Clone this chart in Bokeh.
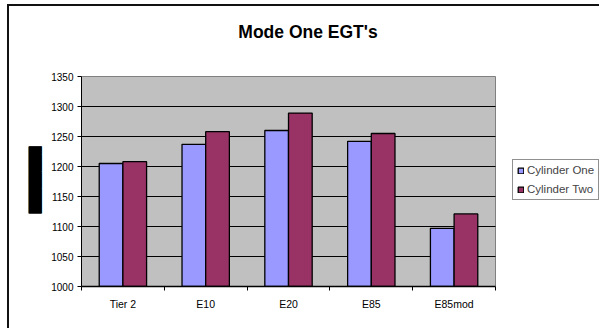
from bokeh.plotting import figure
from bokeh.models import (ColumnDataSource, FixedTicker, Legend, LegendItem,
                          Title, Label, Range1d, Grid)
from bokeh.embed import file_html
from bokeh.resources import INLINE

categories = ["Tier 2", "E10", "E20", "E85", "E85mod"]
cyl_one = [1205, 1237, 1260, 1242, 1097]
cyl_two = [1208, 1258, 1289, 1255, 1121]
y_ticks = [1000, 1050, 1100, 1150, 1200, 1250, 1300, 1350]
title_text = "Mode One EGT's"
series_names = ["Cylinder One", "Cylinder Two"]

FONT = "Liberation Sans"
W, H = 592, 324
LEFT, BOTTOM = 72, 44
PLOT_W_PX = 414            # pixel width of the grey plot area
PX_PER_UNIT = 0.6          # vertical pixels per unit

n = len(categories)
x_end = n * (W - LEFT) / PLOT_W_PX
y_end = y_ticks[0] + (H - BOTTOM) / PX_PER_UNIT

p = figure(width=W, height=H, output_backend="svg", toolbar_location=None,
           x_range=Range1d(0, x_end), y_range=Range1d(y_ticks[0], y_end),
           min_border_left=LEFT, min_border_right=0, min_border_top=0,
           min_border_bottom=BOTTOM,
           styles={"margin-left": "7px", "margin-top": "4px",
                   "border-left": "2px solid #111", "border-top": "2px solid #111"})
p.background_fill_color = "white"
p.border_fill_color = "white"
p.outline_line_color = None

# grey plot area
p.quad(left=[0], right=[n], bottom=[y_ticks[0]], top=[y_ticks[-1]],
       fill_color="#C0C0C0", line_color="#808080", line_width=1, level="image")

centers = [i + 0.5 for i in range(n)]
bw = 0.286
src = ColumnDataSource(dict(x1=[c - bw / 2 for c in centers],
                            x2=[c + bw / 2 for c in centers],
                            y1=cyl_one, y2=cyl_two))
r1 = p.vbar(x="x1", top="y1", bottom=y_ticks[0], width=bw, source=src,
            fill_color="#9999FF", line_color="black", line_width=1.3)
r2 = p.vbar(x="x2", top="y2", bottom=y_ticks[0], width=bw, source=src,
            fill_color="#993366", line_color="black", line_width=1.3)

# x axis
p.xaxis.bounds = (0, n)
p.xaxis.ticker = FixedTicker(ticks=centers, minor_ticks=list(range(n + 1)))
p.xaxis.major_label_overrides = {c: lab for c, lab in zip(centers, categories)}
p.xaxis.major_tick_line_color = None
p.xaxis.major_tick_out = 4
p.xaxis.minor_tick_line_color = "black"
p.xaxis.minor_tick_out = 4
p.xaxis.minor_tick_in = 0
p.xaxis.axis_line_color = "black"
p.xaxis.axis_line_width = 1.5
p.xaxis.major_label_text_font = FONT
p.xaxis.major_label_text_font_size = "10.5px"
p.xaxis.major_label_standoff = 7
p.xaxis.major_label_text_color = "black"

# y axis
p.yaxis.bounds = (y_ticks[0], y_ticks[-1])
p.yaxis.ticker = FixedTicker(ticks=y_ticks)
p.yaxis.minor_tick_line_color = None
p.yaxis.major_tick_out = 4
p.yaxis.major_tick_in = 0
p.yaxis.axis_line_color = "black"
p.yaxis.major_label_text_font = FONT
p.yaxis.major_label_text_font_size = "10px"
p.yaxis.major_label_standoff = 4
p.yaxis.major_label_text_color = "black"

p.xgrid.grid_line_color = None
p.ygrid.grid_line_color = "black"
p.ygrid.grid_line_width = 1
p.ygrid.ticker = FixedTicker(ticks=y_ticks[1:-1])
if "cross_bounds" in Grid.properties():
    p.ygrid.cross_bounds = (0, n)
else:
    # hide grid lines beyond the plot area
    p.quad(left=[n + 0.004], right=[x_end + 1], bottom=[y_ticks[0] + 1],
           top=[y_end], fill_color="white", line_color=None, level="glyph")

# chart title
p.add_layout(Label(x=226.5, y=254.5, x_units="screen", y_units="screen",
                   text=title_text, text_font=FONT, text_font_style="bold",
                   text_font_size="17.5px", text_align="center",
                   text_baseline="alphabetic", text_color="black"))

# redacted axis title (black block)
block = Title(text="\u2588" * 8, text_color="black",
              text_font="DejaVu Sans", text_font_size="10.9px",
              background_fill_color="black", align="left", offset=73, standoff=14)
p.add_layout(block, "left")

legend = Legend(items=[LegendItem(label=series_names[0], renderers=[r1]),
                       LegendItem(label=series_names[1], renderers=[r2])],
                location=(431, 86), label_text_font=FONT, label_text_font_size="11.5px",
                glyph_width=7, glyph_height=7, label_height=11, spacing=7, padding=4,
                border_line_color="#222222", background_fill_color="white",
                label_standoff=3, margin=0)
p.add_layout(legend, "center")

open("out.html", "w").write(file_html(p, INLINE))
